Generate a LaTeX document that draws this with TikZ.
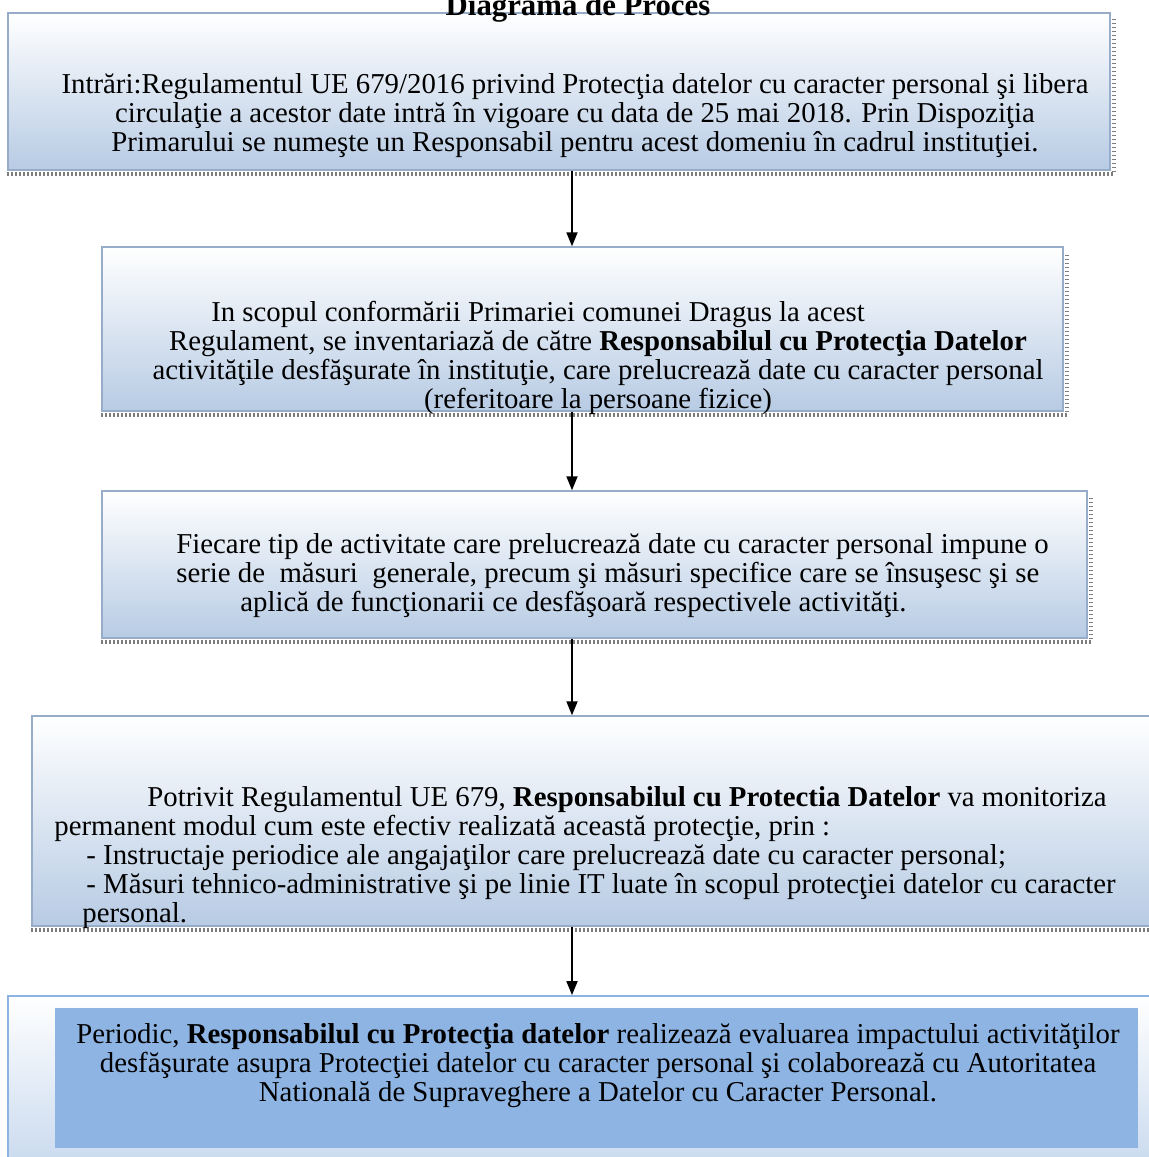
\documentclass[tikz,border=0pt]{standalone}
\usepackage{fontspec}
\setmainfont{Liberation Serif}
\usetikzlibrary{arrows.meta, fit, positioning}

\definecolor{boxline}{RGB}{150,172,200}
\definecolor{boxblue}{RGB}{183,203,228}
\definecolor{shade}{RGB}{125,125,125}
\definecolor{outerline}{RGB}{141,179,226}
\definecolor{outerblue}{RGB}{200,217,238}
\definecolor{innerblue}{RGB}{142,180,227}

\begin{document}
\begin{tikzpicture}[x=0.5pt, y=-0.5pt,
    box/.style={draw=boxline, line width=0.7pt, top color=white, bottom color=boxblue, inner sep=0pt},
    outerbox/.style={draw=outerline, line width=0.9pt, top color=white, bottom color=outerblue, inner sep=0pt},
    innerbox/.style={fill=innerblue, inner sep=0pt},
    txt/.style={font=\fontsize{14.4}{14.5}\selectfont, inner sep=0pt},
    flow/.style={-{Triangle[length=7pt, width=5.5pt]}, line width=0.9pt},
    tick/.style={draw=shade, line width=2.2pt, dash pattern=on 0.6pt off 1.4pt}]

  \useasboundingbox (0,0) rectangle (1148,1157);

  % boxes
  \node[box, fit={(8,13) (1110,170)}] (intrari) {};
  \node[box, fit={(102,247) (1063,411)}] (inventar) {};
  \node[box, fit={(102,491) (1087,638)}] (masuri) {};
  \node[box, fit={(32,716) (1160,926)}] (monitor) {};
  \node[outerbox, fit={(8,996) (1165,1170)}] (evaluare) {};
  \node[innerbox, fit={(55,1008) (1138,1148)}] (evaluareIn) {};

  % shadow under the boxes
  \foreach \b in {intrari, inventar, masuri, monitor} {
    \draw[tick] (\b.south west) ++(0,3) -- ([xshift=1.5pt, yshift=-1.5pt]\b.south east) -- ([xshift=1.5pt, yshift=-3pt]\b.north east);
  }

  % title
  \node[font=\fontsize{15.4}{18}\selectfont\bfseries, anchor=base, inner sep=0pt] (titlu) at (578,15) {Diagrama de Proces};

  % texts
  \node[txt, align=center] (intrariTxt) at (575,116) {Intrări:Regulamentul UE 679/2016 privind Protecţia datelor cu caracter personal şi libera\\
    circulaţie a acestor date intră în vigoare cu data de 25 mai 2018. Prin Dispoziţia\\
    Primarului se numeşte un Responsabil pentru acest domeniu în cadrul instituţiei.};

  \node[txt, align=center] (inventarTxt) at (598,358) {In scopul conformării Primariei comunei Dragus la acest\hspace*{60pt}\\
    Regulament, se inventariază de către \textbf{Responsabilul cu Protecţia Datelor}\\
    activităţile desfăşurate în instituţie, care prelucrează date cu caracter personal\\
    (referitoare la persoane fizice)};

  \node[txt, align=left, anchor=west] (masuriTxt) at (176,576) {Fiecare tip de activitate care prelucrează date cu caracter personal impune o\\
    serie de~ măsuri~ generale, precum şi măsuri specifice care se însuşesc şi se\\
    \hspace*{32pt}aplică de funcţionarii ce desfăşoară respectivele activităţi.};

  \node[txt, align=left, anchor=west] (monitorTxt) at (54,858) {\hspace*{46.5pt}Potrivit Regulamentul UE 679, \textbf{Responsabilul cu Protectia Datelor} va monitoriza\\
    permanent modul cum este efectiv realizată această protecţie, prin :\\
    \hspace*{16pt}- Instructaje periodice ale angajaţilor care prelucrează date cu caracter personal;\\
    \hspace*{16pt}- Măsuri tehnico-administrative şi pe linie IT luate în scopul protecţiei datelor cu caracter\\
    \hspace*{14pt}personal.};

  \node[txt, align=center] (evaluareTxt) at (598,1066) {Periodic, \textbf{Responsabilul cu Protecţia datelor} realizează evaluarea impactului activităţilor\\
    desfăşurate asupra Protecţiei datelor cu caracter personal şi colaborează cu Autoritatea\\
    Natională de Supraveghere a Datelor cu Caracter Personal.};

  % arrows
  \coordinate (axa) at (572,0);
  \draw[flow] (intrari.south -| axa) -- (inventar.north -| axa);
  \draw[flow] (inventar.south -| axa) -- (masuri.north -| axa);
  \draw[flow] (masuri.south -| axa) -- (monitor.north -| axa);
  \draw[flow] (monitor.south -| axa) -- (evaluare.north -| axa);

\end{tikzpicture}
\end{document}
